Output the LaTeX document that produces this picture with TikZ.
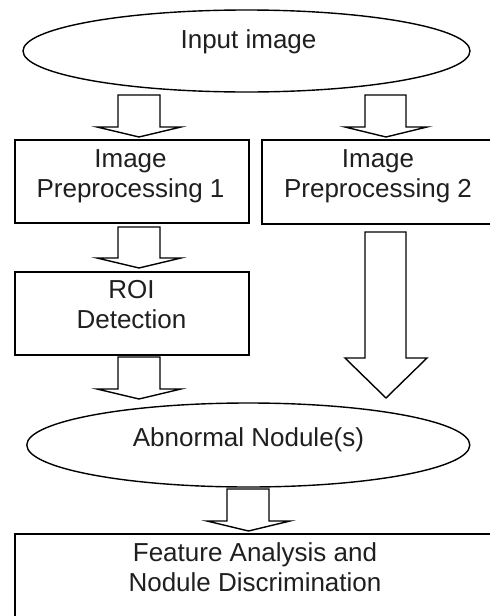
\documentclass[tikz,border=0pt]{standalone}
\usepackage{fontspec}
\setmainfont{Liberation Sans}
\usetikzlibrary{shapes.geometric}
\tikzset{
  boxst/.style={draw=black, line width=1.7pt, fill=white, rectangle, inner sep=0pt},
  ellst/.style={draw=black, line width=1.4pt, ellipse, inner sep=0pt},
  txt/.style={text=black!88, align=center, inner sep=0pt, font=\fontsize{26}{30}\selectfont},
  arrowline/.style={draw=black, line width=1.4pt, fill=white, line join=miter}
}
\begin{document}
\begin{tikzpicture}[x=1pt,y=-1pt]
\useasboundingbox (0,0) rectangle (490,616);
\clip (0,0) rectangle (490,616);
\fill[white] (0,0) rectangle (490,616);

% nodes
\node[ellst, minimum width=447pt, minimum height=82pt] (inimg) at (246.5,51) {};
\node[txt] (inimgT) at (248.5,41.8) {Input image};

\node[boxst, minimum width=234pt, minimum height=83pt] (p1) at (132,181.5) {};
\node[txt] (p1T) at (130.5,176.2) {Image\\Preprocessing 1};

\node[boxst, minimum width=232pt, minimum height=84pt] (p2) at (378,182) {};
\node[txt] (p2T) at (378,176.2) {Image\\Preprocessing 2};

\node[boxst, minimum width=234pt, minimum height=83pt] (roi) at (132,313.5) {};
\node[txt] (roiT) at (131.5,304.7) {ROI\\Detection};

\node[ellst, minimum width=443pt, minimum height=84pt] (abn) at (248.3,445) {};
\node[txt] (abnT) at (248.5,439.3) {Abnormal Nodule(s)};

\node[boxst, minimum width=480pt, minimum height=106pt] (feat) at (255,587) {};
\node[txt] (featT) at (255,567) {Feature Analysis and\\Nodule Discrimination};

% block arrows (connectors)
% Input image -> Preprocessing 1
\draw[arrowline] (118,95) -- (118,127) -- (97,127) -- (139,137) -- (181,127) -- (160,127) -- (160,95) -- cycle;
% Input image -> Preprocessing 2
\draw[arrowline] (365,95) -- (365,127) -- (345,127) -- (386,137) -- (427,127) -- (406,127) -- (406,95) -- cycle;
% Preprocessing 1 -> ROI
\draw[arrowline] (118,227) -- (118,258) -- (97,258) -- (139,268) -- (181,258) -- (160,258) -- (160,227) -- cycle;
% ROI -> Abnormal
\draw[arrowline] (118,357) -- (118,389) -- (97,389) -- (139,399) -- (181,389) -- (160,389) -- (160,357) -- cycle;
% Preprocessing 2 -> Abnormal
\draw[arrowline] (365,232) -- (365,358) -- (345,358) -- (386,398) -- (427,358) -- (406,358) -- (406,232) -- cycle;
% Abnormal -> Feature
\draw[arrowline] (227,489) -- (227,521) -- (207,521) -- (248.5,531) -- (290,521) -- (269,521) -- (269,489) -- cycle;
\end{tikzpicture}
\end{document}
